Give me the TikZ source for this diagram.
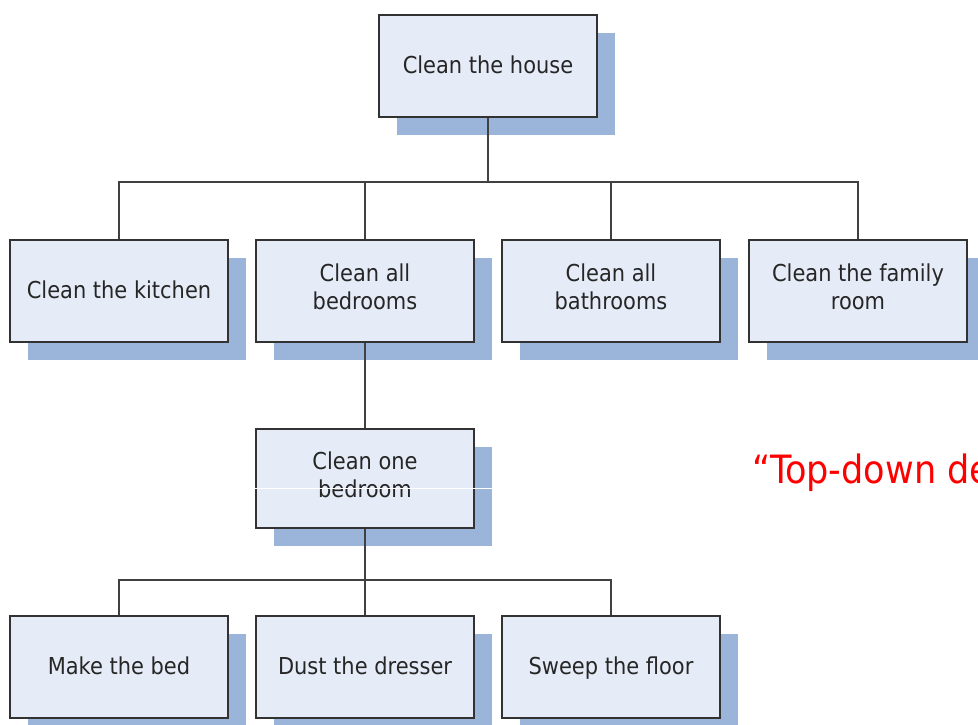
\documentclass[tikz,border=0pt]{standalone}
\usepackage{fontspec}
\setmainfont{DejaVu Sans Condensed}
\usetikzlibrary{shadows}
\definecolor{boxfill}{RGB}{230,236,247}
\definecolor{shadowblue}{RGB}{155,180,218}
\definecolor{edge}{RGB}{50,50,50}
\begin{document}
\begin{tikzpicture}[x=1pt,y=-1pt,
  wbox/.style={draw=edge,line width=2pt,fill=boxfill,minimum width=218pt,minimum height=102pt,
    align=center,font=\fontsize{23.3}{28}\selectfont,text=black!85,inner sep=0pt,
    execute at begin node={\rule{0pt}{23.6pt}},execute at end node={\rule[-8.4pt]{0pt}{8.4pt}},
    drop shadow={shadow xshift=18pt,shadow yshift=-18pt,fill=shadowblue,opacity=1}},
  conn/.style={draw=black!75,line width=1.8pt}]
\clip (0,0) rectangle (978,724);
\useasboundingbox (0,0) rectangle (978,724);
\node[wbox] (top) at (488,65.5) {Clean the house};
\node[wbox] (kitchen) at (119,290.5) {Clean the kitchen};
\node[wbox] (bedrooms) at (365,290.5) {Clean all\\bedrooms};
\node[wbox] (bathrooms) at (611,290.5) {Clean all\\bathrooms};
\node[wbox] (family) at (858,290.5) {Clean the family\\room};
\node[wbox,minimum height=99pt] (one) at (365,478.5) {Clean one\\bedroom};
\node[wbox] (bed) at (119,666.5) {Make the bed};
\node[wbox] (dresser) at (365,666.5) {Dust the dresser};
\node[wbox] (floor) at (611,666.5) {Sweep the floor};
\coordinate (b1) at (488,182);
\coordinate (b2) at (365,580);
\draw[conn] (top.south) -- (b1);
\draw[conn] (kitchen.north) |- (b1) -| (family.north);
\draw[conn] (bedrooms.north) -- (bedrooms.north |- b1);
\draw[conn] (bathrooms.north) -- (bathrooms.north |- b1);
\draw[conn] (bedrooms.south) -- (one.north);
\draw[conn] (one.south) -- (b2);
\draw[conn] (bed.north) |- (b2) -| (floor.north);
\draw[conn] (b2) -- (dresser.north);
\draw[white,line width=1pt] (one.west |- 0,488) -- ++(238,0);
\node[anchor=base west,text=red,font=\fontsize{39}{44}\selectfont,inner sep=0pt] (quote) at (752,483) {“Top-down de};
\end{tikzpicture}
\end{document}
